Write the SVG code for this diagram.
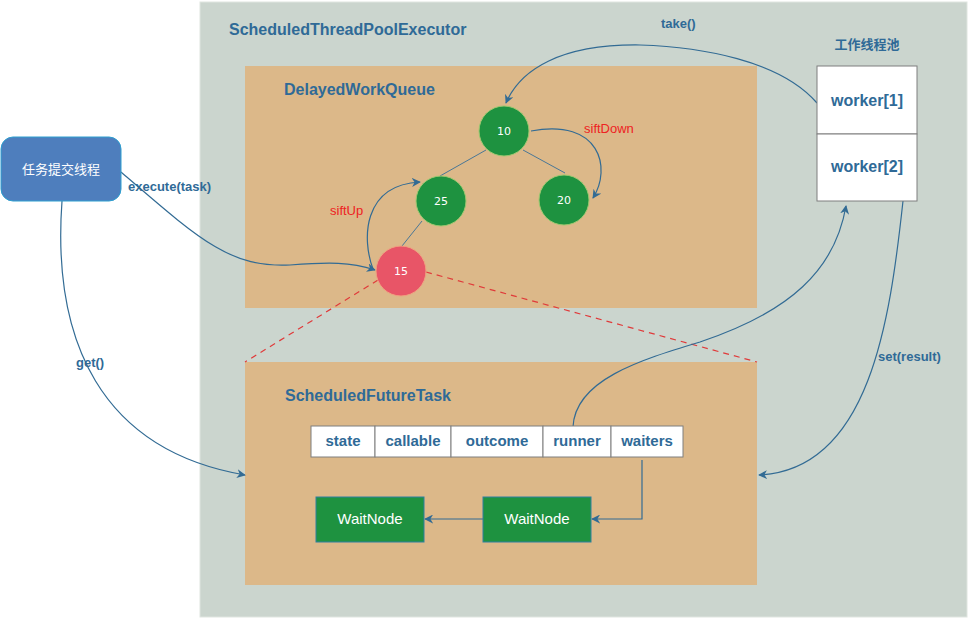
<svg xmlns="http://www.w3.org/2000/svg" width="969" height="619" viewBox="0 0 969 619">
<style>
.t{font-family:"Liberation Sans",Arial,sans-serif;font-weight:bold;fill:#2f6a97}
.red{font-family:"Liberation Sans",Arial,sans-serif;fill:#ee2222;font-size:13px}
.nt{font-family:"DejaVu Sans",sans-serif;fill:#fff;font-size:11px;text-anchor:middle}
.c{fill:none;stroke:#326b94;stroke-width:1.2}
.cell{fill:#fff;stroke:#7f7f7f;stroke-width:1}
.wn{fill:#1e9240;stroke:#2e7fa0;stroke-width:1}
.wt{font-family:"Liberation Sans",Arial,sans-serif;fill:#fff;font-size:15px;text-anchor:middle}
</style>
<defs>
<marker id="a" viewBox="0 0 10 10" refX="9" refY="5" markerWidth="9" markerHeight="9" markerUnits="userSpaceOnUse" orient="auto"><path d="M0,0 L10,5 L0,10 L3,5 z" fill="#326b94"/></marker>
</defs>
<rect width="969" height="619" fill="#fff"/>
<g id="executor">
<rect x="200" y="2" width="767" height="615" fill="#cbd5ce" stroke="#dfe5e0"/>
<text class="t" x="229" y="35" font-size="16">ScheduledThreadPoolExecutor</text>
</g>
<g id="queue">
<rect x="245" y="66" width="512" height="242" fill="#dcb889"/>
<text class="t" x="284" y="95" font-size="16">DelayedWorkQueue</text>
</g>
<g id="futuretask">
<rect x="245" y="362" width="512" height="223" fill="#dcb889"/>
<text class="t" x="285" y="401" font-size="16">ScheduledFutureTask</text>
</g>
<g id="connectors">
<line x1="486" y1="150" x2="440" y2="176" stroke="#4a7796" stroke-width="1"/>
<line x1="523" y1="150" x2="565" y2="173" stroke="#4a7796" stroke-width="1"/>
<line x1="422" y1="221" x2="402" y2="246" stroke="#4a7796" stroke-width="1"/>
<path d="M378,280 L245,362" stroke="#e03a3a" stroke-width="1.2" stroke-dasharray="6,5" fill="none"/>
<path d="M426,272 L757,362" stroke="#e03a3a" stroke-width="1.2" stroke-dasharray="6,5" fill="none"/>
<path class="c" d="M817,103 C780,60 700,47 640,45 C560,44 520,70 506,103" marker-end="url(#a)"/>
<path class="c" d="M531,131 C600,118 612,168 593,198" marker-end="url(#a)"/>
<path class="c" d="M373,269 C362,240 362,185 420,182" marker-end="url(#a)"/>
<path class="c" d="M121,172 C200,240 230,268 290,265 C330,262 350,262 375,270" marker-end="url(#a)"/>
<path class="c" d="M62,201 C52,340 100,450 245,475" marker-end="url(#a)"/>
<path class="c" d="M573,427 C575,380 640,360 700,342 C790,312 835,270 846,206" marker-end="url(#a)"/>
<path class="c" d="M903,201 C890,320 870,470 759,475" marker-end="url(#a)"/>
<path class="c" d="M642,460 L642,519 L592,519" marker-end="url(#a)"/>
<path class="c" d="M483,519 L425,519" marker-end="url(#a)"/>
</g>
<g id="labels">
<text class="t" x="661" y="28" font-size="13">take()</text>
<text class="t" x="128" y="191" font-size="13">execute(task)</text>
<text class="t" x="76" y="367" font-size="13">get()</text>
<text class="t" x="878" y="361" font-size="13">set(result)</text>
<text class="red" x="584" y="133">siftDown</text>
<text class="red" x="330" y="215">siftUp</text>
</g>
<g id="submitter">
<rect x="1" y="137" width="120" height="64" rx="12" fill="#4e7ebd" stroke="#2e9fd0" stroke-width="1"/>
<text x="61" y="174" font-family="'Noto Sans CJK SC',sans-serif" font-size="13" fill="#fff" text-anchor="middle">任务提交线程</text>
</g>
<g id="node10"><circle cx="504" cy="131" r="25" fill="#1e9240" stroke="#9dc870"/><text class="nt" x="504" y="135">10</text></g>
<g id="node25"><circle cx="441" cy="201" r="25" fill="#1e9240" stroke="#9dc870"/><text class="nt" x="441" y="205">25</text></g>
<g id="node20"><circle cx="564" cy="200" r="25" fill="#1e9240" stroke="#9dc870"/><text class="nt" x="564" y="204">20</text></g>
<g id="node15"><circle cx="401" cy="271" r="25" fill="#e85567" stroke="#f0a080"/><text class="nt" x="401" y="275">15</text></g>
<g id="workers">
<text x="867" y="49" font-family="'Noto Sans CJK SC',sans-serif" font-weight="bold" font-size="13" fill="#2f6a97" text-anchor="middle">工作线程池</text>
<rect class="cell" x="817" y="66" width="100" height="68"/>
<rect class="cell" x="817" y="134" width="100" height="67"/>
<text class="t" x="867" y="106" font-size="16" text-anchor="middle">worker[1]</text>
<text class="t" x="867" y="172" font-size="16" text-anchor="middle">worker[2]</text>
</g>
<g id="fields">
<rect class="cell" x="311" y="426" width="64" height="31"/>
<rect class="cell" x="375" y="426" width="76" height="31"/>
<rect class="cell" x="451" y="426" width="92" height="31"/>
<rect class="cell" x="543" y="426" width="68" height="31"/>
<rect class="cell" x="611" y="426" width="72" height="31"/>
<text class="t" font-size="15" text-anchor="middle" x="343" y="446">state</text>
<text class="t" font-size="15" text-anchor="middle" x="413" y="446">callable</text>
<text class="t" font-size="15" text-anchor="middle" x="497" y="446">outcome</text>
<text class="t" font-size="15" text-anchor="middle" x="577" y="446">runner</text>
<text class="t" font-size="15" text-anchor="middle" x="647" y="446">waiters</text>
</g>
<g id="waitnode1"><rect class="wn" x="316" y="497" width="108" height="45"/><text class="wt" x="370" y="524">WaitNode</text></g>
<g id="waitnode2"><rect class="wn" x="483" y="497" width="108" height="45"/><text class="wt" x="537" y="524">WaitNode</text></g>
</svg>
